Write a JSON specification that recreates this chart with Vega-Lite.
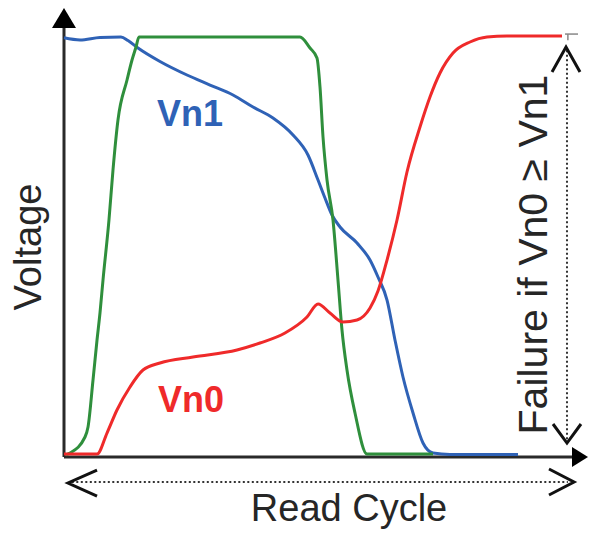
{
  "$schema": "https://vega.github.io/schema/vega-lite/v6.json",
  "autosize": {"type": "none"},
  "padding": {"left": 64, "top": 0, "right": 6, "bottom": 78},
  "width": 520,
  "height": 457,
  "background": "white",
  "config": {"view": {"stroke": null}},
  "datasets": {
    "curves": [
      {"series": "Vn1", "x": 0, "y": 99.8},
      {"series": "Vn1", "x": 3.08, "y": 99.29},
      {"series": "Vn1", "x": 6.92, "y": 99.88},
      {"series": "Vn1", "x": 10.96, "y": 100},
      {"series": "Vn1", "x": 12.31, "y": 99.17},
      {"series": "Vn1", "x": 14.23, "y": 97.38},
      {"series": "Vn1", "x": 18.46, "y": 94.17},
      {"series": "Vn1", "x": 23.65, "y": 90.95},
      {"series": "Vn1", "x": 28.08, "y": 88.57},
      {"series": "Vn1", "x": 32.5, "y": 86.19},
      {"series": "Vn1", "x": 36.35, "y": 83.33},
      {"series": "Vn1", "x": 40.19, "y": 80.71},
      {"series": "Vn1", "x": 44.04, "y": 76.67},
      {"series": "Vn1", "x": 46.92, "y": 71.9},
      {"series": "Vn1", "x": 48.85, "y": 65.95},
      {"series": "Vn1", "x": 50.19, "y": 61.67},
      {"series": "Vn1", "x": 51.54, "y": 57.62},
      {"series": "Vn1", "x": 53.08, "y": 54.76},
      {"series": "Vn1", "x": 56.35, "y": 50.95},
      {"series": "Vn1", "x": 58.85, "y": 46.9},
      {"series": "Vn1", "x": 60.38, "y": 42.86},
      {"series": "Vn1", "x": 62.12, "y": 37.38},
      {"series": "Vn1", "x": 63.65, "y": 27.86},
      {"series": "Vn1", "x": 65.19, "y": 19.05},
      {"series": "Vn1", "x": 67.12, "y": 10.48},
      {"series": "Vn1", "x": 69.04, "y": 3.33},
      {"series": "Vn1", "x": 70.96, "y": 0.95},
      {"series": "Vn1", "x": 74.23, "y": 0.6},
      {"series": "Vn1", "x": 87.31, "y": 0.6},
      {"series": "WL", "x": 0.38, "y": 0.48},
      {"series": "WL", "x": 1.15, "y": 0.95},
      {"series": "WL", "x": 4.04, "y": 4.76},
      {"series": "WL", "x": 4.62, "y": 7.14},
      {"series": "WL", "x": 5.58, "y": 18.33},
      {"series": "WL", "x": 6.35, "y": 27.86},
      {"series": "WL", "x": 6.92, "y": 34.29},
      {"series": "WL", "x": 7.5, "y": 42.14},
      {"series": "WL", "x": 8.65, "y": 56.43},
      {"series": "WL", "x": 9.42, "y": 68.33},
      {"series": "WL", "x": 10.38, "y": 80.24},
      {"series": "WL", "x": 12.12, "y": 89.76},
      {"series": "WL", "x": 13.08, "y": 94.52},
      {"series": "WL", "x": 13.85, "y": 97.62},
      {"series": "WL", "x": 14.42, "y": 100},
      {"series": "WL", "x": 45.38, "y": 100},
      {"series": "WL", "x": 47.31, "y": 97.38},
      {"series": "WL", "x": 48.65, "y": 95},
      {"series": "WL", "x": 49.23, "y": 88.1},
      {"series": "WL", "x": 49.81, "y": 76.19},
      {"series": "WL", "x": 50.58, "y": 65.95},
      {"series": "WL", "x": 51.73, "y": 56.43},
      {"series": "WL", "x": 52.69, "y": 42.14},
      {"series": "WL", "x": 53.46, "y": 30.24},
      {"series": "WL", "x": 54.42, "y": 20.71},
      {"series": "WL", "x": 55.96, "y": 10.48},
      {"series": "WL", "x": 58.27, "y": 0.71},
      {"series": "WL", "x": 70.96, "y": 0.71},
      {"series": "Vn0", "x": 0, "y": 0.71},
      {"series": "Vn0", "x": 6.35, "y": 0.71},
      {"series": "Vn0", "x": 8.27, "y": 5.71},
      {"series": "Vn0", "x": 10.19, "y": 11.19},
      {"series": "Vn0", "x": 12.69, "y": 16.67},
      {"series": "Vn0", "x": 15.19, "y": 20.71},
      {"series": "Vn0", "x": 18.46, "y": 22.38},
      {"series": "Vn0", "x": 24.81, "y": 23.81},
      {"series": "Vn0", "x": 33.27, "y": 25.48},
      {"series": "Vn0", "x": 37.69, "y": 27.14},
      {"series": "Vn0", "x": 42.5, "y": 29.52},
      {"series": "Vn0", "x": 46.73, "y": 33.33},
      {"series": "Vn0", "x": 48.85, "y": 36.43},
      {"series": "Vn0", "x": 51.15, "y": 34.29},
      {"series": "Vn0", "x": 53.65, "y": 32.14},
      {"series": "Vn0", "x": 56.35, "y": 32.62},
      {"series": "Vn0", "x": 58.85, "y": 35.48},
      {"series": "Vn0", "x": 60.38, "y": 39.52},
      {"series": "Vn0", "x": 62.12, "y": 46.9},
      {"series": "Vn0", "x": 64.04, "y": 56.43},
      {"series": "Vn0", "x": 65.96, "y": 67.86},
      {"series": "Vn0", "x": 68.46, "y": 78.57},
      {"series": "Vn0", "x": 70.38, "y": 85.71},
      {"series": "Vn0", "x": 72.31, "y": 91.43},
      {"series": "Vn0", "x": 74.81, "y": 96.19},
      {"series": "Vn0", "x": 78.08, "y": 98.81},
      {"series": "Vn0", "x": 81.35, "y": 100},
      {"series": "Vn0", "x": 85.19, "y": 100.24},
      {"series": "Vn0", "x": 95.77, "y": 100.24}
    ],
    "axes": [
      {"id": "x-axis", "x": 0, "x2": 98.3, "y": 0, "y2": 0},
      {"id": "y-axis", "x": 0, "x2": 0, "y": 0, "y2": 104}
    ],
    "dotted": [
      {"id": "cycle", "x": 1.5, "x2": 96.9, "y": -5.95, "y2": -5.95},
      {"id": "failure", "x": 96.73, "x2": 96.73, "y": 4.2, "y2": 96.9}
    ],
    "chevrons": [
      {"id": "left", "k": 0, "x": 6.35, "y": -3.1},
      {"id": "left", "k": 1, "x": 0.77, "y": -6.19},
      {"id": "left", "k": 2, "x": 6.35, "y": -9.29},
      {"id": "right", "k": 0, "x": 93.27, "y": -2.86},
      {"id": "right", "k": 1, "x": 98.08, "y": -5.95},
      {"id": "right", "k": 2, "x": 93.27, "y": -9.05},
      {"id": "top", "k": 0, "x": 93.85, "y": 91.67},
      {"id": "top", "k": 1, "x": 96.54, "y": 97.62},
      {"id": "top", "k": 2, "x": 99.23, "y": 91.67},
      {"id": "bottom", "k": 0, "x": 94.04, "y": 7.86},
      {"id": "bottom", "k": 1, "x": 96.73, "y": 3.33},
      {"id": "bottom", "k": 2, "x": 99.42, "y": 7.86}
    ],
    "cap": [
      {"id": "bar", "x": 96.35, "x2": 98.85, "y": 100.7, "y2": 100.7},
      {"id": "stem", "x": 96.9, "x2": 96.9, "y": 100.7, "y2": 99.2}
    ]
  },
  "encoding": {
    "x": {"field": "x", "type": "quantitative", "scale": {"domain": [0, 100], "nice": false, "zero": false}, "axis": null},
    "y": {"field": "y", "type": "quantitative", "scale": {"domain": [0, 108.81], "nice": false, "zero": false}, "axis": null}
  },
  "layer": [
    {
      "data": {"name": "axes"},
      "mark": {"type": "rule", "color": "#2a2a2a", "strokeWidth": 3},
      "encoding": {"x2": {"field": "x2"}, "y2": {"field": "y2"}}
    },
    {
      "data": {"values": [{"x": 0, "y": 104.52}]},
      "mark": {"type": "point", "shape": "M0,-1L1.2,1L-1.2,1Z", "size": 400, "filled": true, "color": "#000000", "opacity": 1}
    },
    {
      "data": {"values": [{"x": 99.23, "y": 0}]},
      "mark": {"type": "point", "shape": "M1,0L-1,-1.25L-1,1.25Z", "size": 256, "filled": true, "color": "#000000", "opacity": 1}
    },
    {
      "data": {"name": "dotted"},
      "mark": {"type": "rule", "color": "#333333", "strokeWidth": 2, "strokeDash": [2, 2.5]},
      "encoding": {"x2": {"field": "x2"}, "y2": {"field": "y2"}}
    },
    {
      "data": {"name": "cap"},
      "mark": {"type": "rule", "color": "#888888", "strokeWidth": 1.5},
      "encoding": {"x2": {"field": "x2"}, "y2": {"field": "y2"}}
    },
    {
      "data": {"name": "chevrons"},
      "mark": {"type": "line", "color": "#111111", "strokeWidth": 3, "strokeJoin": "miter"},
      "encoding": {"detail": {"field": "id"}, "order": {"field": "k", "type": "quantitative"}}
    },
    {
      "data": {"name": "curves"},
      "mark": {"type": "line", "strokeWidth": 3, "interpolate": "monotone"},
      "encoding": {
        "color": {"field": "series", "type": "nominal", "scale": {"domain": ["Vn1", "WL", "Vn0"], "range": ["#2f62b6", "#2f8f3c", "#ef2a2a"]}, "legend": null}
      }
    },
    {
      "data": {"values": [{"label": "Vn1", "x": 24.23, "y": 81.43}]},
      "mark": {"type": "text", "font": "Liberation Sans", "fontSize": 36, "fontWeight": "bold", "color": "#2f62b6", "align": "center", "baseline": "middle"},
      "encoding": {"text": {"field": "label"}}
    },
    {
      "data": {"values": [{"label": "Vn0", "x": 24.42, "y": 13.33}]},
      "mark": {"type": "text", "font": "Liberation Sans", "fontSize": 36, "fontWeight": "bold", "color": "#ef2a2a", "align": "center", "baseline": "middle"},
      "encoding": {"text": {"field": "label"}}
    },
    {
      "data": {"values": [{"label": "Read Cycle", "x": 54.81, "y": -12.62}]},
      "mark": {"type": "text", "font": "Liberation Sans", "fontSize": 38, "color": "#262626", "align": "center", "baseline": "middle"},
      "encoding": {"text": {"field": "label"}}
    },
    {
      "data": {"values": [{"label": "Voltage", "x": -6.54, "y": 50}]},
      "mark": {"type": "text", "font": "Liberation Sans", "fontSize": 38, "color": "#262626", "align": "center", "baseline": "middle", "angle": 270},
      "encoding": {"text": {"field": "label"}}
    },
    {
      "data": {"values": [{"label": "Failure if Vn0 ≥ Vn1", "x": 90.6, "y": 48.2}]},
      "mark": {"type": "text", "font": "Liberation Sans", "fontSize": 41, "color": "#262626", "align": "center", "baseline": "middle", "angle": 270},
      "encoding": {"text": {"field": "label"}}
    }
  ]
}
